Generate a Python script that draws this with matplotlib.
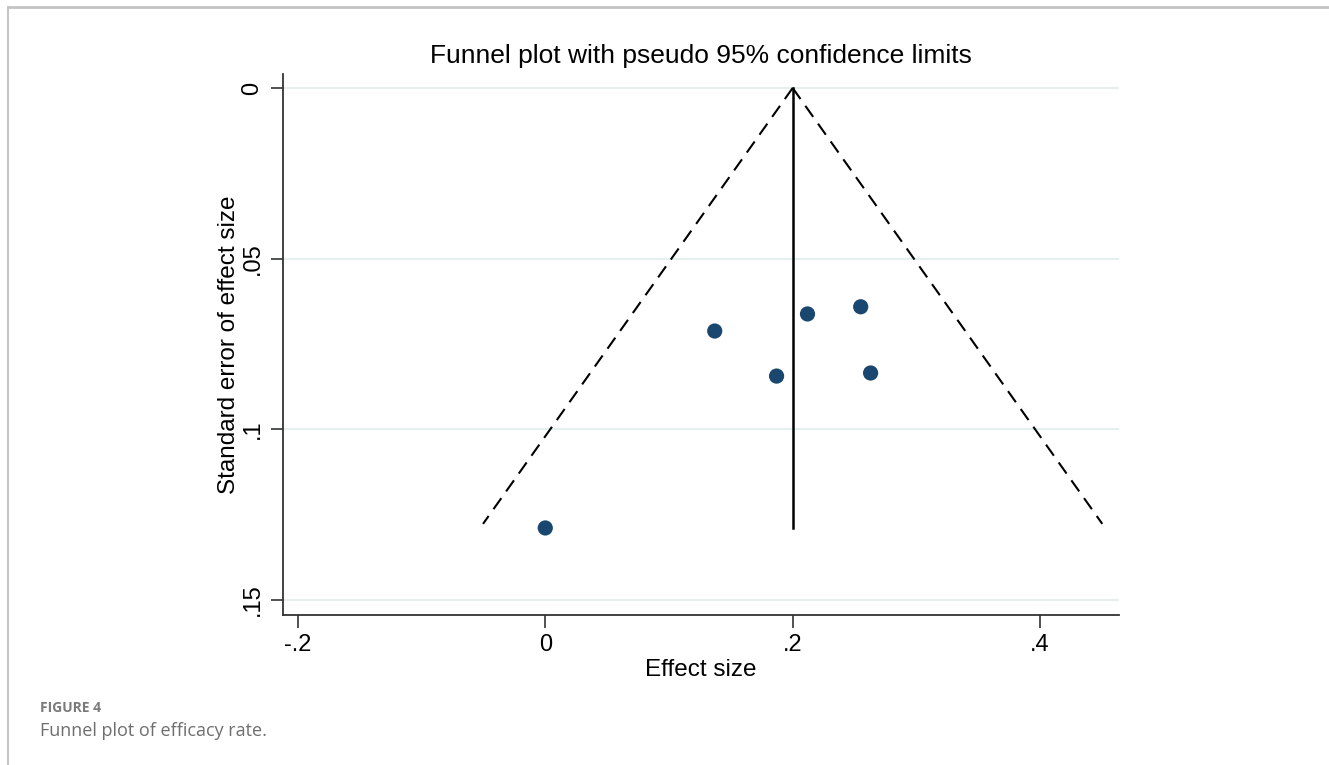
import numpy as np
import matplotlib.pyplot as plt
from matplotlib.lines import Line2D

# study estimates
effect = [0.0, 0.137, 0.187, 0.212, 0.255, 0.263]
se = [0.1289, 0.0712, 0.0844, 0.0662, 0.0641, 0.0835]

pooled = 0.2
se_max = 0.1277

xticks = [-0.2, 0, 0.2, 0.4]
xticklabels = ['-.2', '0', '.2', '.4']
yticks = [0, 0.05, 0.1, 0.15]
yticklabels = ['0', '.05', '.1', '.15']

W, H = 1329, 765
fig = plt.figure(figsize=(W / 100, H / 100), dpi=100)
fig.patch.set_facecolor('white')

# panel border (top + left only)
fig.add_artist(Line2D([7.5 / W, 1], [1 - 6.5 / H, 1 - 6.5 / H], color='#c4c4c4', lw=2))
fig.add_artist(Line2D([7.5 / W, 7.5 / W], [0, 1 - 6.5 / H], color='#c4c4c4', lw=1.5))

ax = fig.add_axes([283 / W, 1 - 615 / H, (1119 - 283) / W, (615 - 74) / H])

font = 'Liberation Sans'
navy = '#1a476f'

for y in yticks:
    ax.axhline(y, color='#e6eef0', lw=1.5, zorder=0)

# pseudo 95% limits
s = np.array([0, se_max])
ax.plot(pooled - 1.96 * s, s, color='black', lw=1.5, ls=(0, (6.5, 4)))
ax.plot(pooled + 1.96 * s, s, color='black', lw=1.5, ls=(0, (6.5, 4)))
ax.plot([pooled, pooled], [0, max(se)], color='black', lw=1.8)

ax.scatter(effect, se, s=120, color=navy, zorder=3, edgecolors='none')

ax.set_xlim(-0.212, 0.4638)
ax.set_ylim(0.1544, -0.0041)

ax.set_xticks(xticks)
ax.set_xticklabels(xticklabels, fontsize=17, family=font)
ax.set_yticks(yticks)
ax.set_yticklabels(yticklabels, fontsize=17, family=font, rotation=90, va='center')
ax.tick_params(length=9, width=1.2, color='#333333', pad=5)

for side in ['top', 'right']:
    ax.spines[side].set_visible(False)
for side in ['left', 'bottom']:
    ax.spines[side].set_linewidth(1.3)
    ax.spines[side].set_color('#333333')

ax.set_xlabel('Effect size', fontsize=17.5, family=font, labelpad=1.5)
ax.set_ylabel('Standard error of effect size', fontsize=17.5, family=font, labelpad=1)
ax.set_title('Funnel plot with pseudo 95% confidence limits', fontsize=19, family=font, pad=8)

fig.text(40 / W, 1 - 708 / H, 'FIGURE 4', fontsize=10, family='Open Sans', weight='bold',
         color='#7a7a7a', va='center')
fig.text(40 / W, 1 - 731 / H, 'Funnel plot of efficacy rate.', fontsize=13, family='Open Sans',
         color='#6e6e6e', va='center')

fig.savefig('out.png', dpi=100)
